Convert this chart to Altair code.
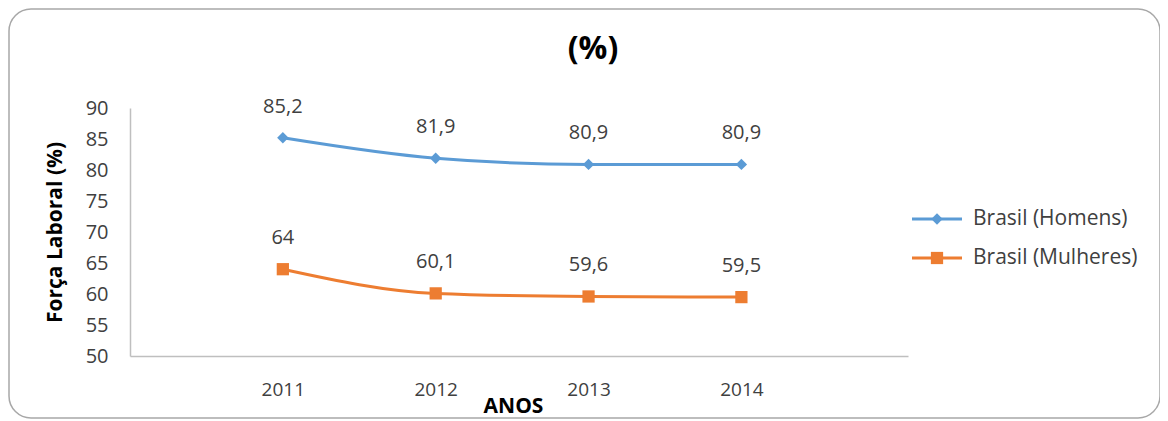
import altair as alt
import pandas as pd

years = [2011, 2012, 2013, 2014]
series_names = ["Brasil (Homens)", "Brasil (Mulheres)"]
homens = [85.2, 81.9, 80.9, 80.9]
mulheres = [64, 60.1, 59.6, 59.5]
colors = ["#5B9BD5", "#ED7D31"]
shapes = ["diamond", "square"]
sizes = [130, 150]
y_ticks = [50, 55, 60, 65, 70, 75, 80, 85, 90]
chart_title = "(%)"

def fmt(v):
    return ("%g" % v).replace(".", ",")

rows = []
for name, vals in zip(series_names, [homens, mulheres]):
    for yr, v in zip(years, vals):
        rows.append({"ano": yr, "valor": v, "serie": name, "rotulo": fmt(v)})
df = pd.DataFrame(rows)

FONT = "Open Sans"
TXT = "#404040"

xenc = alt.X("ano:Q", scale=alt.Scale(domain=[2010, 2015.09], nice=False, zero=False),
             axis=alt.Axis(values=years, format="d", title="ANOS", ticks=False, grid=False,
                           domainColor="#BFBFBF", domainWidth=1.5, labelPadding=24,
                           labelFontSize=19, labelColor=TXT, labelFont=FONT, labelOverlap=False,
                           titleFont=FONT, titleFontSize=21, titleFontWeight="bold",
                           titleColor="#000000", titlePadding=-4, titleX=383, labelFlush=False))
yenc = alt.Y("valor:Q", scale=alt.Scale(domain=[50, 90], nice=False, zero=False),
             axis=alt.Axis(values=y_ticks, title="Força Laboral (%)", ticks=False, grid=False,
                           domainColor="#BFBFBF", domainWidth=1.5, labelPadding=22,
                           labelFontSize=20, labelColor=TXT, labelFont=FONT, labelOverlap=False,
                           titleFont=FONT, titleFontSize=21, titleFontWeight="bold",
                           titleColor="#000000", titlePadding=20))
cscale = alt.Scale(domain=series_names, range=colors)
sscale = alt.Scale(domain=series_names, range=shapes)
zscale = alt.Scale(domain=series_names, range=sizes)

border = alt.Chart(pd.DataFrame({"k": [0]})).mark_rect(
    fill="white", fillOpacity=0, stroke="#A8A8A8", strokeWidth=1.5, cornerRadius=22
).encode(x=alt.value(-121), x2=alt.value(1030), y=alt.value(-99), y2=alt.value(310))

title = alt.Chart(pd.DataFrame({"t": [chart_title]})).mark_text(
    font=FONT, fontSize=32, fontWeight="bold", color="#000000", baseline="middle", align="center"
).encode(x=alt.value(463), y=alt.value(-59), text="t:N")

lines = alt.Chart(df).mark_line(interpolate="monotone", strokeWidth=3).encode(
    x=xenc, y=yenc, color=alt.Color("serie:N", scale=cscale, legend=None), detail="serie:N")
points = alt.Chart(df).mark_point(filled=True, opacity=1).encode(
    x=xenc, y=yenc,
    color=alt.Color("serie:N", scale=cscale, legend=None),
    shape=alt.Shape("serie:N", scale=sscale, legend=None),
    size=alt.Size("serie:N", scale=zscale, legend=None))
labels = alt.Chart(df).mark_text(dy=-31, fontSize=20, font=FONT, color=TXT).encode(
    x=xenc, y=yenc, text="rotulo:N")

legend_layers = []
for i, (name, col, shp, sz) in enumerate(zip(series_names, colors, shapes, sizes)):
    ly = 111 + i * 39
    ldf = pd.DataFrame({"serie": [name]})
    legend_layers.append(alt.Chart(ldf).mark_rule(color=col, strokeWidth=3).encode(
        x=alt.value(782), x2=alt.value(832), y=alt.value(ly)))
    legend_layers.append(alt.Chart(ldf).mark_point(filled=True, opacity=1, size=sz, shape=shp, color=col).encode(
        x=alt.value(807), y=alt.value(ly)))
    legend_layers.append(alt.Chart(ldf).mark_text(align="left", baseline="middle", fontSize=21,
                                                  font=FONT, color=TXT).encode(
        x=alt.value(843), y=alt.value(ly), text="serie:N"))

chart = alt.layer(border, title, lines, points, labels, *legend_layers).properties(
    width=778, height=248,
    autosize=alt.AutoSizeParams(type="none"),
    padding={"left": 122, "top": 100, "right": 252, "bottom": 64},
).configure(background="white").configure_view(strokeWidth=0, stroke="transparent")

chart.save("out.html", embed_options={"renderer": "svg", "actions": False})
